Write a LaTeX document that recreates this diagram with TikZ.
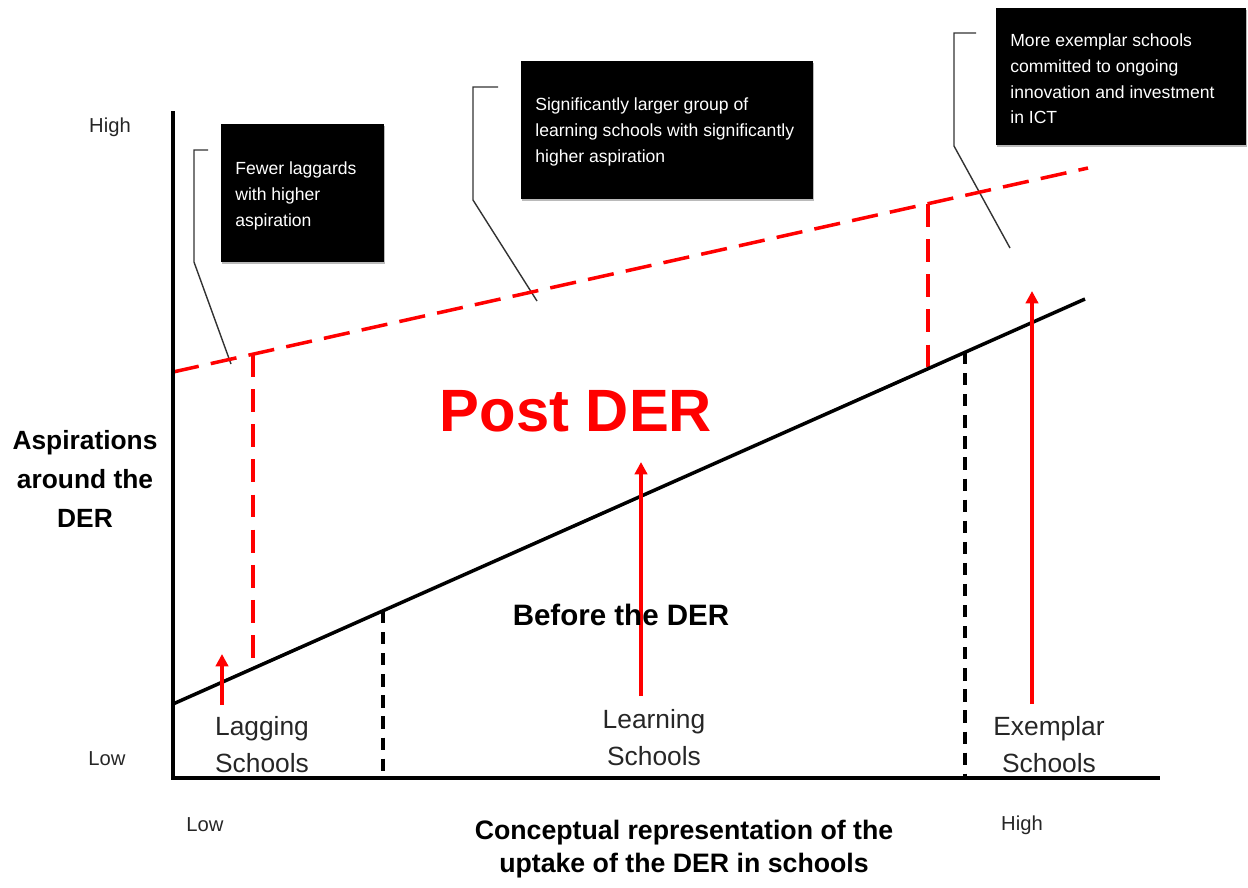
\documentclass[tikz,border=0pt]{standalone}
\usepackage{fontspec}
\setmainfont{Liberation Sans}
\usetikzlibrary{arrows.meta,shadows}
\definecolor{callgray}{HTML}{333333}
\tikzset{
  axisline/.style={line width=2.1pt, black},
  trend/.style={line width=2pt, black},
  reddash/.style={line width=2pt, red, dash pattern=on 15pt off 7pt},
  redvdash/.style={line width=2pt, red, dash pattern=on 13pt off 7pt},
  blackvdash/.style={line width=2pt, black, dash pattern=on 7pt off 5pt},
  redarrow/.style={line width=1.9pt, red, -{Triangle[width=7pt,length=7pt]}},
  callout/.style={line width=0.8pt, callgray},
  blackbox/.style={fill=black, draw=none, anchor=north west, inner sep=0pt,
    drop shadow={shadow xshift=0.6pt, shadow yshift=-1.2pt, fill=black!45, opacity=0.6}},
  boxtext/.style={text=white, anchor=west, align=left, inner sep=0pt,
    font=\fontsize{10}{14.6}\selectfont},
  smalllabel/.style={font=\fontsize{11.5}{14}\selectfont, text=black!85, inner sep=0pt},
  grouplabel/.style={font=\fontsize{15}{21}\selectfont, text=black!85, align=center, inner sep=0pt},
  boldlabel/.style={font=\fontsize{15}{22}\selectfont\bfseries, align=center, inner sep=0pt},
}
\begin{document}
\begin{tikzpicture}[x=0.02cm, y=-0.02cm]
\useasboundingbox (0,0) rectangle (1248,887);

% coordinates
\coordinate (O) at (173,778);
\coordinate (Ytop) at (173,113);
\coordinate (Xend) at (1158,778);
\coordinate (B0) at (173,704);
\coordinate (B1) at (1085,299);
\coordinate (R0) at (173,372);
\coordinate (R1) at (1088,168);
\coordinate (rv1t) at (253,354);
\coordinate (rv1b) at (253,664);
\coordinate (rv2t) at (928,204);
\coordinate (rv2b) at (928,369);
\coordinate (bv1t) at (383,611);
\coordinate (bv1b) at (383,778);
\coordinate (bv2t) at (965,352);
\coordinate (bv2b) at (965,778);
\coordinate (a1s) at (222,705);
\coordinate (a1e) at (222,654);
\coordinate (a2s) at (641,696);
\coordinate (a2e) at (641,462);
\coordinate (a3s) at (1032,704);
\coordinate (a3e) at (1032,291);
\coordinate (c1a) at (208,150);
\coordinate (c1b) at (194,150);
\coordinate (c1c) at (194,262);
\coordinate (c1d) at (231,364);
\coordinate (c2a) at (498,87);
\coordinate (c2b) at (473,87);
\coordinate (c2c) at (473,200);
\coordinate (c2d) at (537,301);
\coordinate (c3a) at (976,33);
\coordinate (c3b) at (954,33);
\coordinate (c3c) at (954,146);
\coordinate (c3d) at (1010,248);

% boxes
\node[blackbox, minimum width=3.26cm, minimum height=2.76cm] (b1) at (221,124) {};
\node[blackbox, minimum width=5.84cm, minimum height=2.76cm] (b2) at (521,61) {};
\node[blackbox, minimum width=5.0cm, minimum height=2.74cm] (b3) at (996,8) {};
\node[boxtext] (t1) at (235,196) {Fewer laggards\\with higher\\aspiration};
\node[boxtext] (t2) at (535,132) {Significantly larger group of\\learning schools with significantly\\higher aspiration};
\node[boxtext] (t3) at (1010,79) {More exemplar schools\\committed to ongoing\\innovation and investment\\in ICT};

% callout lines
\draw[callout] (c1a) -- (c1b) -- (c1c) -- (c1d);
\draw[callout] (c2a) -- (c2b) -- (c2c) -- (c2d);
\draw[callout] (c3a) -- (c3b) -- (c3c) -- (c3d);

% red dashed aspiration line and verticals
\draw[reddash] (R0) -- (R1);
\draw[redvdash] (rv1t) -- (rv1b);
\draw[redvdash] (rv2t) -- (rv2b);

% black dashed verticals
\draw[blackvdash] (bv1t) -- (bv1b);
\draw[blackvdash] (bv2t) -- (bv2b);

% trend line
\draw[trend] (B0) -- (B1);

% red arrows
\draw[redarrow] (a1s) -- (a1e);
\draw[redarrow] (a2s) -- (a2e);
\draw[redarrow] (a3s) -- (a3e);

% axes
\draw[axisline, line cap=rect] (Ytop) -- (O) -- (Xend);

% labels
\node[smalllabel] (yhigh) at (110,127) {High};
\node[smalllabel] (ylow) at (107,759) {Low};
\node[smalllabel] (xlow) at (205,825) {Low};
\node[smalllabel] (xhigh) at (1022,825) {High};
\node[boldlabel] (ytitle) at (85,479) {Aspirations\\around the\\DER};
\node[boldlabel, font=\fontsize{15.2}{19}\selectfont\bfseries] (xtitle) at (684,849) {Conceptual representation of the\\uptake of the DER in schools};
\node[font=\fontsize{34}{40}\selectfont\bfseries, text=red, anchor=base, inner sep=0pt] (post) at (576,431) {Post DER};
\node[font=\fontsize{16.8}{20}\selectfont\bfseries, anchor=base, inner sep=0pt] (before) at (621,625) {Before the DER};
\node[grouplabel] (lag) at (262,745) {Lagging\\Schools};
\node[grouplabel] (learn) at (654,738) {Learning\\Schools};
\node[grouplabel] (exem) at (1049,745) {Exemplar\\Schools};
\end{tikzpicture}
\end{document}
